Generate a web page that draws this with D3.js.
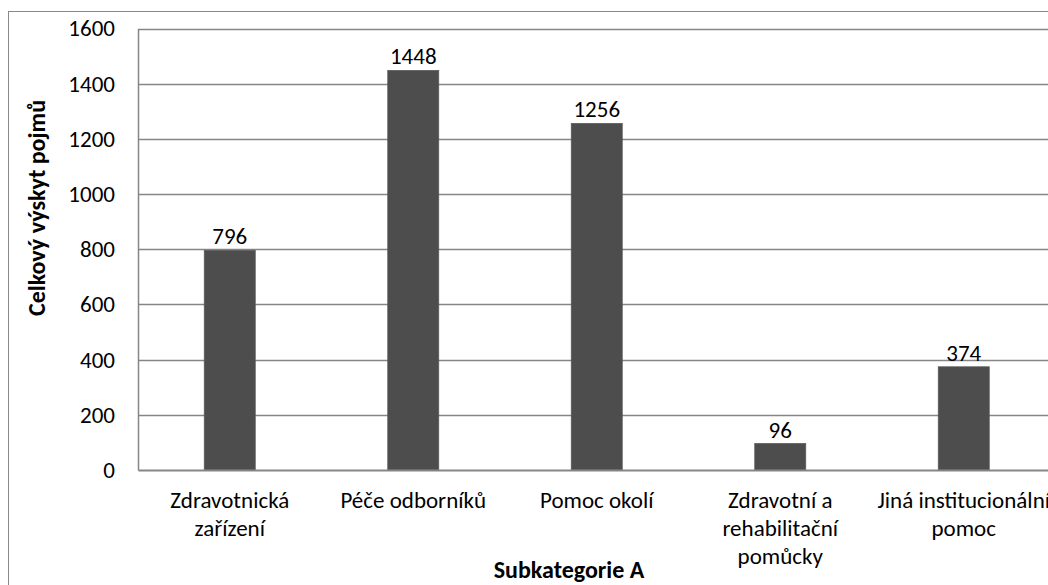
<!DOCTYPE html>
<html><head><meta charset="utf-8">
<script src="https://cdn.jsdelivr.net/npm/d3@7/dist/d3.min.js"></script>
<style>
html,body{margin:0;padding:0;background:#fff;overflow:hidden;}
svg{display:block;font-family:Carlito,Calibri,Lato,sans-serif;}
</style></head>
<body><svg id="c" width="1048" height="585"></svg>
<script>
const categories = ["Zdravotnická\nzařízení", "Péče odborníků", "Pomoc okolí", "Zdravotní a\nrehabilitační\npomůcky", "Jiná institucionální\npomoc"];
const values = [796, 1448, 1256, 96, 374];
const yTicks = [0, 200, 400, 600, 800, 1000, 1200, 1400, 1600];
const yTitle = "Celkový výskyt pojmů";
const xTitle = "Subkategorie A";

const svg = d3.select("#c");
const fsNum = 23, fsCat = 23, fsTitle = 24;
const pLeft = 138, pTop = 28.5, pBottom = 470, pRight = 1055.5;

// outer chart border
svg.append("rect").attr("x", 8.5).attr("y", 11.5).attr("width", 1200).attr("height", 700)
  .attr("fill", "none").attr("stroke", "#888").attr("stroke-width", 1);

const x = d3.scaleBand().domain(categories).range([pLeft, pRight]).paddingInner(0.7222).paddingOuter(0.3611);
const y = d3.scaleLinear().domain([0, 1600]).range([pBottom, pTop]);

// gridlines
svg.append("g").selectAll("line").data(yTicks.filter(t => t > 0)).join("line")
  .attr("x1", pLeft).attr("x2", pRight).attr("y1", d => Math.round(y(d)) + 0.5).attr("y2", d => Math.round(y(d)) + 0.5)
  .attr("stroke", "#868686").attr("stroke-width", 1.5);

// bars
svg.append("g").selectAll("rect").data(values).join("rect")
  .attr("x", (d, i) => x(categories[i])).attr("width", x.bandwidth())
  .attr("y", d => y(d)).attr("height", d => pBottom - y(d))
  .attr("fill", "#4d4d4d").attr("stroke", "#5a5a5a").attr("stroke-width", 0.8);

// y axis
const yAxis = d3.axisLeft(y).tickValues(yTicks).tickSize(0).tickPadding(23).tickFormat(d3.format("d"));
const gy = svg.append("g").attr("transform", `translate(${pLeft},0)`).call(yAxis);
gy.select(".domain").attr("stroke", "#868686").attr("stroke-width", 1.5);
gy.selectAll("text").attr("font-size", fsNum).attr("fill", "#000").attr("font-family", "Carlito,Calibri,Lato,sans-serif");

// x axis
const xAxis = d3.axisBottom(x).tickSize(0).tickFormat("");
const gx = svg.append("g").attr("transform", `translate(0,${pBottom})`).call(xAxis);
gx.select(".domain").attr("stroke", "#868686").attr("stroke-width", 2);

// category labels
const lab = svg.append("g").selectAll("text").data(categories).join("text")
  .attr("text-anchor", "middle").attr("font-size", fsCat).attr("fill", "#000")
  .attr("x", d => x(d) + x.bandwidth() / 2).attr("y", 508);
lab.selectAll("tspan").data(d => d.split("\n")).join("tspan")
  .attr("x", function () { return d3.select(this.parentNode).attr("x"); })
  .attr("dy", (d, i) => i === 0 ? 0 : 28).text(d => d);

// data labels
svg.append("g").selectAll("text").data(values).join("text")
  .attr("text-anchor", "middle").attr("font-size", fsNum).attr("fill", "#000")
  .attr("x", (d, i) => x(categories[i]) + x.bandwidth() / 2).attr("y", d => y(d) - 6)
  .text(d => d);

// titles
svg.append("text").attr("transform", "translate(45,208) rotate(-90)").attr("text-anchor", "middle")
  .attr("font-size", fsTitle).attr("font-weight", "bold").text(yTitle);
svg.append("text").attr("x", 569).attr("y", 578).attr("text-anchor", "middle")
  .attr("font-size", fsTitle).attr("font-weight", "bold").text(xTitle);
</script></body></html>
